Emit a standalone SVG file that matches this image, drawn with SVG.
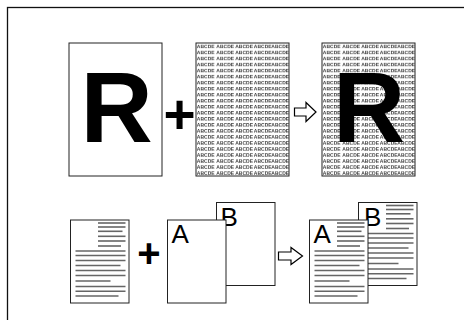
<svg xmlns="http://www.w3.org/2000/svg" width="464" height="320" viewBox="0 0 464 320">
<style>
.page{fill:#fff;stroke:#222;stroke-width:1}
.frame{fill:none;stroke:#111;stroke-width:1.3}
.big{font-family:"Liberation Sans",Arial,sans-serif;font-weight:bold;font-size:100px;fill:#000;text-anchor:middle}
.plus{font-family:"Liberation Sans",Arial,sans-serif;font-weight:bold;fill:#000;text-anchor:middle}
.ltr{font-family:"Liberation Sans",Arial,sans-serif;font-size:26px;fill:#000}
.abc{font-family:"Liberation Sans",Arial,sans-serif;font-size:5px;font-weight:bold;fill:#333}
.ln{stroke:#666;stroke-width:1.6}
.arrow{fill:#fff;stroke:#000;stroke-width:1.2;stroke-linejoin:miter}
</style>
<defs>
<pattern id="abc" patternUnits="userSpaceOnUse" x="196" y="43" width="93" height="6.03">
<text class="abc" x="0.8" y="5">ABCDE</text>
<text class="abc" x="20.3" y="5">ABCDE</text>
<text class="abc" x="39.2" y="5">ABCDE</text>
<text class="abc" x="57.8" y="5">ABCDE</text>
<text class="abc" x="75.3" y="5">ABCDE</text>
</pattern>
<g id="lines">
<line class="ln" x1="27.5" y1="3" x2="55" y2="3"/>
<line class="ln" x1="27.5" y1="7" x2="55" y2="7"/>
<line class="ln" x1="27.5" y1="11.3" x2="52" y2="11.3"/>
<line class="ln" x1="27.5" y1="16.3" x2="55" y2="16.3"/>
<line class="ln" x1="27.5" y1="21" x2="55" y2="21"/>
<line class="ln" x1="27.5" y1="26" x2="50.5" y2="26"/>
<line class="ln" x1="5" y1="31" x2="55" y2="31"/>
<line class="ln" x1="5" y1="35.5" x2="55" y2="35.5"/>
<line class="ln" x1="5" y1="40.5" x2="55" y2="40.5"/>
<line class="ln" x1="5" y1="45.5" x2="50" y2="45.5"/>
<line class="ln" x1="5" y1="50.5" x2="55" y2="50.5"/>
<line class="ln" x1="5" y1="55.5" x2="55" y2="55.5"/>
<line class="ln" x1="5" y1="61" x2="40" y2="61"/>
<line class="ln" x1="5" y1="66.5" x2="55" y2="66.5"/>
<line class="ln" x1="5" y1="71.3" x2="55" y2="71.3"/>
<line class="ln" x1="5" y1="76" x2="48" y2="76"/>
</g>
</defs>
<rect class="frame" x="7.5" y="7.5" width="500" height="400"/>

<g id="page-R">
<rect class="page" x="69" y="43" width="93" height="133"/>
<text class="big" x="116.5" y="142">R</text>
</g>
<g id="plus-top"><text class="plus" x="179.5" y="133" font-size="55">+</text></g>
<g id="page-pattern">
<rect class="page" x="196" y="43" width="93" height="133"/>
<rect x="196" y="43" width="93" height="133" fill="url(#abc)"/>
</g>
<g id="page-result-top">
<rect class="page" x="322" y="43" width="93" height="133"/>
<rect x="196" y="43" width="93" height="133" fill="url(#abc)" transform="translate(126 0)"/>
<text class="big" x="369" y="142">R</text>
</g>

<g id="page-lines">
<rect class="page" x="70.5" y="220" width="58.5" height="83"/>
<use href="#lines" transform="translate(70.5 220)"/>
</g>
<g id="plus-bottom"><text class="plus" x="149" y="267" font-size="40">+</text></g>
<g id="page-B">
<rect class="page" x="216.5" y="202.5" width="58.5" height="83"/>
<text class="ltr" x="220.5" y="225.5">B</text>
</g>
<g id="page-A">
<rect class="page" x="167.5" y="220" width="58.5" height="83"/>
<text class="ltr" x="171.5" y="243">A</text>
</g>
<g id="result-B">
<rect class="page" x="358.5" y="202.5" width="58.5" height="83"/>
<use href="#lines" transform="translate(358.5 202.5)"/>
<text class="ltr" x="364" y="225.5">B</text>
</g>
<g id="result-A">
<rect class="page" x="309.5" y="220" width="58.5" height="83"/>
<use href="#lines" transform="translate(309.5 220)"/>
<text class="ltr" x="313.5" y="243">A</text>
</g>

<g id="connectors">
<polygon class="arrow" points="294.5,108 306,108 306,102.5 316,112 306,121.5 306,116 294.5,116"/>
<polygon class="arrow" points="278.5,252 291,252 291,247.5 302.5,256 291,264.5 291,260 278.5,260"/>
</g>
</svg>
